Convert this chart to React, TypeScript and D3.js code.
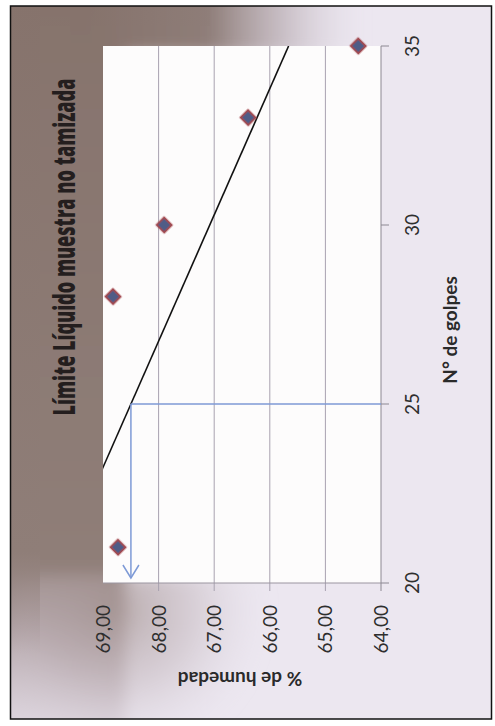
import React, { useLayoutEffect, useRef, useState } from "react";
import * as d3 from "d3";

const golpes = [21, 28, 30, 33, 35];
const humedad = [68.73, 68.82, 67.9, 66.39, 64.41];
const humedadTicks = [69, 68, 67, 66, 65, 64];
const golpesTicks = [20, 25, 30, 35];
const limiteGolpes = 25;
const title = "Límite Líquido muestra no tamizada";
const xTitle = "N° de golpes";
const yTitle = "% de humedad";

const fmt = (v: number) => v.toFixed(2).replace(".", ",");

export default function App() {
  const W = 495;
  const H = 726;
  // chart is rotated: humidity runs horizontally (right = low), golpes vertically (up = high)
  const hx = d3.scaleLinear().domain([64, 69]).range([381, 103]);
  const gy = d3.scaleLinear().domain([20, 35]).range([583, 46]);

  // linear regression (trend line)
  const mx = d3.mean(golpes) as number;
  const my = d3.mean(humedad) as number;
  const sxy = d3.sum(golpes.map((g, i) => (g - mx) * (humedad[i] - my)));
  const sxx = d3.sum(golpes.map((g) => (g - mx) * (g - mx)));
  const slope = sxy / sxx;
  const trend = (g: number) => my + slope * (g - mx);

  const line = d3
    .line<number>()
    .x((g) => hx(trend(g)))
    .y((g) => gy(g));

  const [x0, x1] = [hx(69), hx(64)];
  const [y0, y1] = [gy(35), gy(20)];
  const limX = hx(trend(limiteGolpes));
  const limY = gy(limiteGolpes);
  const arrowTipY = y1 - 5;

  const diamond = d3.symbol().type(d3.symbolSquare).size(115)() as string;

  const titleRef = useRef<SVGTextElement>(null);
  const [titleScale, setTitleScale] = useState(0.55);
  useLayoutEffect(() => {
    if (titleRef.current) {
      const w = titleRef.current.getComputedTextLength();
      if (w > 0) setTitleScale(337 / w);
    }
  }, []);

  return (
    <svg
      width={W}
      height={H}
      style={{ position: "absolute", left: 0, top: 0, background: "#ffffff" }}
      fontFamily="Lato, 'Open Sans', sans-serif"
    >
      <defs>
        <linearGradient id="leftStrip" gradientUnits="userSpaceOnUse" x1="0" y1="0" x2="0" y2="726">
          <stop offset="0" stopColor="#86736c" stopOpacity={1} />
          <stop offset="0.78" stopColor="#8f7e78" stopOpacity={1} />
          <stop offset="0.88" stopColor="#a8989a" stopOpacity={0.8} />
          <stop offset="1" stopColor="#c8bcc4" stopOpacity={0.4} />
        </linearGradient>
        <linearGradient id="edgeStrip" gradientUnits="userSpaceOnUse" x1="0" y1="0" x2="0" y2="726">
          <stop offset="0" stopColor="#86736c" stopOpacity={1} />
          <stop offset="0.76" stopColor="#8f7e78" stopOpacity={1} />
          <stop offset="0.9" stopColor="#a8989a" stopOpacity={0} />
        </linearGradient>
        <linearGradient id="topStrip" gradientUnits="userSpaceOnUse" x1="90" y1="0" x2="430" y2="0">
          <stop offset="0" stopColor="#86736c" stopOpacity={1} />
          <stop offset="0.35" stopColor="#8e7d78" stopOpacity={1} />
          <stop offset="0.55" stopColor="#b3a6ab" stopOpacity={0.7} />
          <stop offset="0.8" stopColor="#d8d0dc" stopOpacity={0} />
        </linearGradient>
        <radialGradient id="bottomBlob" gradientUnits="userSpaceOnUse" cx={120} cy={610} r={150}>
          <stop offset="0" stopColor="#a39290" stopOpacity={0.7} />
          <stop offset="0.5" stopColor="#b9abb0" stopOpacity={0.4} />
          <stop offset="1" stopColor="#e0d9e4" stopOpacity={0} />
        </radialGradient>
        <clipPath id="frameClip">
          <rect x={10.5} y={6} width={481} height={713} />
        </clipPath>
        <clipPath id="plotClip">
          <rect x={x0} y={y0} width={x1 - x0} height={y1 - y0} />
        </clipPath>
        <filter id="bgBlur" filterUnits="userSpaceOnUse" x={-100} y={-100} width={700} height={950}>
          <feGaussianBlur stdDeviation="8" />
        </filter>
        <filter id="soft" x="-50%" y="-50%" width="200%" height="200%">
          <feGaussianBlur stdDeviation="0.7" />
        </filter>
      </defs>

      {/* background */}
      <rect x={10.5} y={6} width={481} height={713} fill="#ece7f0" />
      <g clipPath="url(#frameClip)">
        <g filter="url(#bgBlur)">
          <rect x={-20} y={-20} width={145} height={760} fill="url(#leftStrip)" />
          <rect x={90} y={-20} width={340} height={75} fill="url(#topStrip)" />
          <rect x={11} y={575} width={320} height={160} fill="url(#bottomBlob)" />
        </g>
        <rect x={10} y={6} width={30} height={713} fill="url(#edgeStrip)" />
        <rect x={10} y={6} width={200} height={20} fill="url(#topStrip)" opacity={0.6} />
      </g>
      <rect x={10.5} y={6} width={481} height={713} fill="none" stroke="#111" strokeWidth={1.5} />

      {/* plot area */}
      <rect x={x0} y={y0} width={x1 - x0} height={y1 - y0} fill="#fdfcfc" />

      {/* gridlines (humidity) */}
      {humedadTicks
        .filter((t) => t !== 69 && t !== 64)
        .map((t) => (
          <line key={t} x1={hx(t)} x2={hx(t)} y1={y0} y2={y1 + 8} stroke="#a8a2b0" strokeWidth={1} />
        ))}
      {/* humidity axis line */}
      <line x1={x0} x2={x1} y1={y1} y2={y1} stroke="#9a95a0" strokeWidth={1} />
      {/* golpes axis */}
      <line x1={x1} x2={x1} y1={y0} y2={y1 + 8} stroke="#8c8892" strokeWidth={1} />
      {golpesTicks.map((t) => (
        <line key={t} x1={x1} x2={x1 + 8} y1={gy(t)} y2={gy(t)} stroke="#8c8892" strokeWidth={1} />
      ))}

      {/* trend line */}
      <path
        d={line([20, 35]) as string}
        clipPath="url(#plotClip)"
        fill="none"
        stroke="#111"
        strokeWidth={1.6}
      />

      {/* liquid limit guide */}
      <g stroke="#7e9ad6" strokeWidth={1.5} fill="none">
        <line x1={x1} x2={limX} y1={limY} y2={limY} />
        <line x1={limX} x2={limX} y1={limY} y2={arrowTipY} />
        <polyline points={`${limX - 8},${arrowTipY - 13} ${limX},${arrowTipY} ${limX + 8},${arrowTipY - 13}`} />
      </g>

      {/* markers */}
      {golpes.map((g, i) => (
        <path
          key={g}
          d={diamond}
          transform={`translate(${hx(humedad[i])},${gy(g)}) rotate(45)`}
          fill="#4f5c86"
          stroke="#a34a50"
          strokeWidth={2}
          filter="url(#soft)"
        />
      ))}

      {/* title */}
      <text
        ref={titleRef}
        transform={`translate(75,${247}) rotate(-90) scale(${titleScale},1)`}
        textAnchor="middle"
        fontSize={30}
        fontWeight={800}
        fontFamily="'Open Sans', 'DejaVu Sans', sans-serif"
        fill="#241e1e"
      >
        {title}
      </text>

      {/* golpes tick labels */}
      {golpesTicks.map((t) => (
        <text
          key={t}
          transform={`translate(419,${gy(t)}) rotate(-90)`}
          textAnchor="middle"
          fontSize={19}
          fill="#2e2e2e"
        >
          {t}
        </text>
      ))}

      {/* humidity tick labels */}
      {humedadTicks.map((t) => (
        <text
          key={t}
          transform={`translate(${hx(t) + 7},${y1 + 22}) rotate(-90)`}
          textAnchor="end"
          fontSize={19}
          fill="#2e2e2e"
        >
          {fmt(t)}
        </text>
      ))}

      {/* axis titles */}
      <text
        transform={`translate(457,330) rotate(-90)`}
        textAnchor="middle"
        fontSize={19}
        fontWeight={700}
        fill="#2a2a2a"
      >
        {xTitle}
      </text>
      <text
        transform={`translate(240,672) rotate(180)`}
        textAnchor="middle"
        fontSize={19}
        fontWeight={700}
        fill="#2a2a2a"
      >
        {yTitle}
      </text>
    </svg>
  );
}
